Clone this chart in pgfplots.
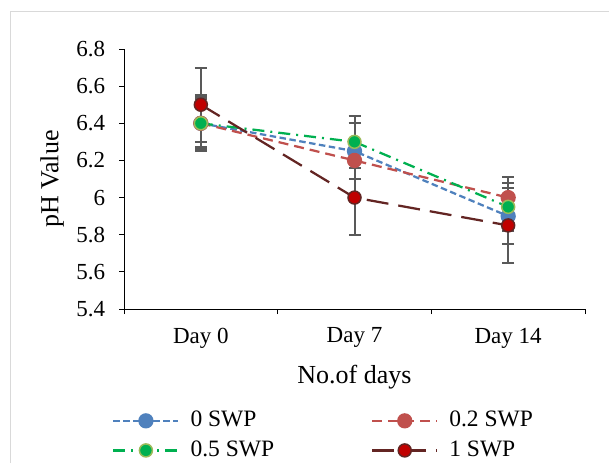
\documentclass[border=0pt]{standalone}
\usepackage{fontspec}
\setmainfont{Liberation Serif}
\usepackage{pgfplots}
\pgfplotsset{compat=1.18}
\definecolor{cblue}{HTML}{4F81BD}
\definecolor{csalmon}{HTML}{C0504D}
\definecolor{cgreen}{HTML}{00B050}
\definecolor{colive}{HTML}{9BBB59}
\definecolor{cmaroon}{HTML}{632523}
\definecolor{cred}{HTML}{C00000}
\definecolor{cerr}{HTML}{595959}
\definecolor{cframe}{HTML}{D9D9D9}
\begin{document}
\fontsize{23}{27}\selectfont
\begin{tikzpicture}[font=\fontsize{23}{27}\selectfont]
\path[use as bounding box] (0pt,0pt) rectangle (609pt,-463pt);
\draw[cframe, line width=1pt] (10pt,-463pt) -- (10pt,-11pt) -- (609pt,-11pt);
\begin{axis}[
  at={(124pt,-309pt)}, anchor=south west,
  width=461pt, height=260pt, scale only axis,
  /pgf/number format/assume math mode=true,
  xmin=-0.5, xmax=2.5, ymin=5.4, ymax=6.8,
  axis lines*=left,
  axis line style={black, line width=1pt},
  xtick={0,1,2}, xticklabels={Day 0,Day 7,Day 14},
  minor xtick={-0.5,0.5,1.5,2.5},
  ytick={5.4,5.6,5.8,6,6.2,6.4,6.6,6.8},
  yticklabels={5.4,5.6,5.8,6,6.2,6.4,6.6,6.8},
  tick align=outside,
  major tick length=5pt, minor tick length=5pt,
  x tick style={draw=none},
  minor x tick style={draw=black, line width=1pt},
  y tick style={black, line width=1pt},
  tick label style={font=\fontsize{23}{27}\selectfont},
  yticklabel style={xshift=-6pt},
  label style={font=\fontsize{26}{30}\selectfont},
  xticklabel style={yshift=-6pt},
  xlabel={No.of days}, ylabel={pH Value},
  xlabel style={yshift=-2pt},
  ylabel style={yshift=-3pt},
  legend columns=2,
  legend cell align=left,
  legend style={at={(-0.028,-0.385)}, anchor=north west, draw=none, fill=none,
    inner sep=1pt,
    font=\fontsize{23.5}{27}\selectfont, row sep=8.5pt,
    nodes={inner ysep=1pt},
    /tikz/every odd column/.append style={column sep=9pt},
    /tikz/every even column/.append style={column sep=95pt}},
  legend image code/.code={\draw[mark repeat=2,mark phase=2,#1] plot coordinates {(0pt,0pt) (32.5pt,0pt) (65pt,0pt)};},
  error bars/y dir=both, error bars/y explicit,
  error bars/error bar style={cerr, line width=2pt, solid},
  error bars/error mark options={cerr, line width=2pt, mark size=6pt, rotate=90},
]
\addplot[cblue, line width=2.25pt, dash pattern=on 6.5pt off 3.5pt, mark=*, mark size=6.5pt,
  mark options={solid, fill=cblue, draw=cblue}]
  coordinates {(0,6.40) +- (0,0.15) (1,6.25) +- (0,0.15) (2,5.90) +- (0,0.15)};
\addlegendentry{0 SWP}
\addplot[csalmon, line width=2.25pt, dash pattern=on 10pt off 6pt, mark=*, mark size=6.5pt,
  mark options={solid, fill=csalmon, draw=csalmon}]
  coordinates {(0,6.40) +- (0,0.14) (1,6.20) +- (0,0.10) (2,6.00) +- (0,0.11)};
\addlegendentry{0.2 SWP}
\addplot[cgreen, line width=2.25pt, dash pattern=on 12pt off 6pt on 2pt off 6pt, mark=*, mark size=6.5pt,
  mark options={solid, fill=cgreen, draw=colive, line width=1.5pt}]
  coordinates {(0,6.40) +- (0,0.13) (1,6.30) +- (0,0.14) (2,5.95) +- (0,0.13)};
\addlegendentry{0.5 SWP}
\addplot[cmaroon, line width=2.25pt, dash pattern=on 22pt off 10pt, mark=*, mark size=6.5pt,
  mark options={solid, fill=cred, draw=cmaroon, line width=1.5pt}]
  coordinates {(0,6.50) +- (0,0.20) (1,6.00) +- (0,0.20) (2,5.85) +- (0,0.20)};
\addlegendentry{1 SWP}
\end{axis}
\end{tikzpicture}
\end{document}
